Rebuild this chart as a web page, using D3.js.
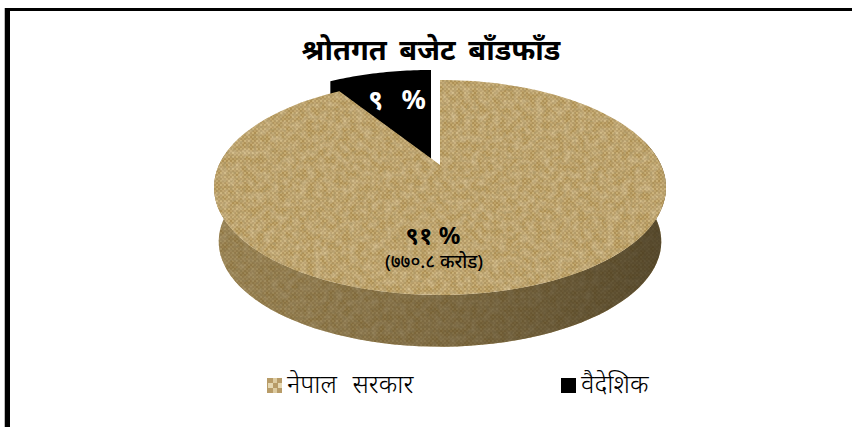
<!DOCTYPE html>
<html>
<head>
<meta charset="utf-8">
<script src="https://d3js.org/d3.v7.min.js"></script>
<style>
  html, body { margin: 0; padding: 0; background: #fff; }
  text { font-family: "Noto Sans", "Noto Sans Devanagari", "Lohit Devanagari", "Liberation Serif", sans-serif; }
</style>
</head>
<body>
<svg id="chart" width="852" height="427"></svg>
<script>
const categories = ["नेपाल सरकार", "वैदेशिक"];
const shares = [91, 9];
const shareLabels = ["९१ %", "९ %"];
const amountLabel = "(७७०.८ करोड)";
const chartTitle = "श्रोतगत बजेट बाँडफाँड";

const W = 852, H = 427;
const svg = d3.select("#chart");
const defs = svg.append("defs");

// woven cloth tile for the pie fill
const cloth = defs.append("pattern").attr("id", "cloth")
  .attr("patternUnits", "userSpaceOnUse").attr("width", 4).attr("height", 4);
cloth.append("rect").attr("width", 4).attr("height", 4).attr("fill", "#ae9054");
cloth.append("rect").attr("width", 2).attr("height", 2).attr("fill", "#c8ad72");
cloth.append("rect").attr("x", 2).attr("y", 2).attr("width", 2).attr("height", 2).attr("fill", "#c0a368");

// burlap look: faint mottling and specks of noise over the weave, then a slight blur
const burlap = defs.append("filter").attr("id", "burlap")
  .attr("x", "0%").attr("y", "0%").attr("width", "100%").attr("height", "100%");
burlap.append("feTurbulence").attr("type", "fractalNoise")
  .attr("baseFrequency", "0.3 0.35").attr("numOctaves", 3).attr("seed", 4).attr("result", "n");
burlap.append("feColorMatrix").attr("in", "n").attr("type", "matrix")
  .attr("values", "0 0 0 0 0.42  0 0 0 0 0.32  0 0 0 0 0.14  2.2 0 0 0 -1.0").attr("result", "specks");
burlap.append("feComposite").attr("in", "specks").attr("in2", "SourceGraphic").attr("operator", "in").attr("result", "specksCut");
burlap.append("feTurbulence").attr("type", "fractalNoise")
  .attr("baseFrequency", "0.14").attr("numOctaves", 2).attr("seed", 9).attr("result", "m");
burlap.append("feColorMatrix").attr("in", "m").attr("type", "matrix")
  .attr("values", "0 0 0 0 0.9  0 0 0 0 0.8  0 0 0 0 0.55  0.6 0 0 0 -0.2").attr("result", "light");
burlap.append("feComposite").attr("in", "light").attr("in2", "SourceGraphic").attr("operator", "in").attr("result", "lightCut");
burlap.append("feMerge").attr("result", "all").selectAll("feMergeNode").data(["SourceGraphic", "lightCut", "specksCut"]).enter()
  .append("feMergeNode").attr("in", d => d);
burlap.append("feGaussianBlur").attr("in", "all").attr("stdDeviation", 0.5);

// shading of the wall, over the same cloth
const wallGrad = defs.append("linearGradient").attr("id", "wall");
[["0%", "#4a3c1c", 0.3], ["45%", "#3a2e14", 0.45], ["100%", "#2a2210", 0.7]].forEach(s =>
  wallGrad.append("stop").attr("offset", s[0]).attr("stop-color", s[1]).attr("stop-opacity", s[2]));

const swatch = defs.append("pattern").attr("id", "swatch")
  .attr("patternUnits", "userSpaceOnUse").attr("width", 10).attr("height", 10);
swatch.append("rect").attr("width", 10).attr("height", 10).attr("fill", "#b89c68");
swatch.append("rect").attr("x", 1).attr("y", 5).attr("width", 5).attr("height", 5).attr("fill", "#e6d8b2");
swatch.append("rect").attr("x", 6).attr("width", 4).attr("height", 5).attr("fill", "#ddcba0");

// frame
svg.append("rect").attr("x", 4).attr("y", 8).attr("width", 1).attr("height", H - 8).attr("fill", "#bbb");
svg.append("rect").attr("x", 5).attr("y", 8).attr("width", 5).attr("height", H - 8).attr("fill", "#000");
svg.append("rect").attr("x", 5).attr("y", 8).attr("width", W - 5).attr("height", 3).attr("fill", "#000");

// pie angles come from d3.pie, the tilt is a simple perspective projection
const arcs = d3.pie().sort(null)(shares);
const persp = -0.209, depthK = 102.8, R = 221;
const yScale = d3.scaleLinear().domain([0, 1]).range([165, 165 + depthK]);
const rScale = d3.scaleLinear().domain([0, 1]).range([0, R]);

function project(a, r, dx, dy, drop) {
  const u = Math.sin(a) * r, v = -Math.cos(a) * r;
  const w = 1 + persp * v;
  return [440 + rScale(u / w) + (dx || 0), yScale(v / w) + (dy || 0) + (drop || 0)];
}
function sample(a0, a1, n) {
  return d3.range(n + 1).map(i => a0 + (a1 - a0) * i / n);
}
const line = d3.line();

// black slice, pulled out from the pie; its lower part goes under the big slice
const black = arcs[1];
const bdx = -9, bdy = -10, depth = 55;
const blackShape = [project(0, 0, bdx, bdy, 24), project(black.startAngle, 1, bdx, bdy, 24)]
  .concat(sample(black.startAngle, black.endAngle, 30).map(a => project(a, 1, bdx, bdy)))
  .concat([project(0, 0, bdx, bdy)]);
svg.append("path").attr("d", line(blackShape) + "Z").attr("fill", "#000");

// wall of the big slice
const main = arcs[0];
const front = sample(Math.PI * 0.42, Math.PI * 1.6, 80);
const wall = front.map(a => project(a, 1))
  .concat(front.slice().reverse().map(a => project(a, 0.98, 0, 0, depth)));
svg.append("path").attr("d", line(wall) + "Z").attr("fill", "url(#cloth)").attr("filter", "url(#burlap)");
svg.append("path").attr("d", line(wall) + "Z").attr("fill", "url(#wall)");

// top of the big slice
const mainTop = [project(0, 0)].concat(sample(main.startAngle, main.endAngle, 160).map(a => project(a, 1)));
svg.append("path").attr("d", line(mainTop) + "Z").attr("fill", "url(#cloth)").attr("filter", "url(#burlap)");

// title and labels
svg.append("text").attr("x", 431).attr("y", 60).attr("text-anchor", "middle")
  .attr("font-size", 29).attr("font-weight", 700).attr("word-spacing", 5).text(chartTitle);
svg.append("text").attr("x", 397).attr("y", 109).attr("text-anchor", "middle")
  .attr("font-size", 27).attr("font-weight", 700).attr("word-spacing", 11).attr("fill", "#fff").text(shareLabels[1]);
svg.append("text").attr("x", 433).attr("y", 244).attr("text-anchor", "middle")
  .attr("font-size", 24).attr("font-weight", 700).text(shareLabels[0]);
svg.append("text").attr("x", 434).attr("y", 268).attr("text-anchor", "middle")
  .attr("font-size", 18.5).attr("font-weight", 500).text(amountLabel);

// legend
const legendX = d3.scalePoint().domain(categories).range([267, 561]);
const legend = svg.selectAll(".legend-item").data(categories).enter().append("g")
  .attr("class", "legend-item").attr("transform", d => `translate(${legendX(d)},378)`);
legend.append("rect").attr("width", 15).attr("height", 15)
  .attr("fill", (d, i) => i === 0 ? "url(#swatch)" : "#000");
legend.append("text").attr("x", 20).attr("y", 15).attr("font-size", 25.5).attr("font-weight", 300)
  .attr("word-spacing", 9).text(d => d);
</script>
</body>
</html>
